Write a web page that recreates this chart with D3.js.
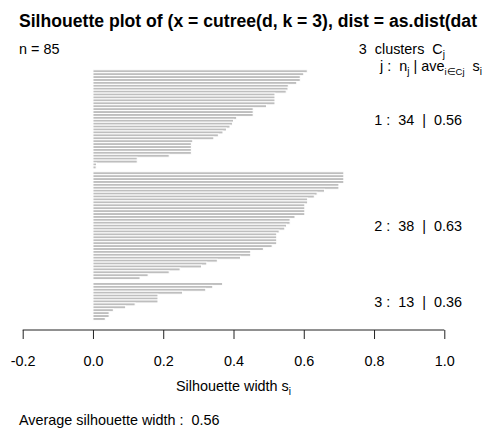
<!DOCTYPE html>
<html>
<head>
<meta charset="utf-8">
<script src="https://cdn.jsdelivr.net/npm/d3@7"></script>
<style>
  html, body { margin: 0; padding: 0; background: #fff; }
  svg text { font-family: "Liberation Sans", Arial, sans-serif; fill: #000; white-space: pre; }
</style>
</head>
<body>
<svg id="chart" width="483" height="428"></svg>
<script>
// ---- data ----
const titleText = "Silhouette plot of (x = cutree(d, k = 3), dist = as.dist(dat";
const nObs = 85;
const clusterIds = [1, 2, 3];
const clusterSizes = [34, 38, 13];
const clusterAvg = [0.56, 0.63, 0.36];
const averageWidth = 0.56;
const xTicks = [-0.2, 0.0, 0.2, 0.4, 0.6, 0.8, 1.0];

const cluster1 = [0.61, 0.60, 0.59, 0.59, 0.58, 0.556, 0.555, 0.55, 0.518, 0.518, 0.518, 0.518,
  0.494, 0.456, 0.456, 0.456, 0.409, 0.40, 0.397, 0.39, 0.38, 0.37, 0.357, 0.344,
  0.284, 0.28, 0.28, 0.28, 0.28, 0.217, 0.126, 0.126, 0.01, 0.009];
const cluster2 = [0.714, 0.714, 0.714, 0.714, 0.70, 0.70, 0.659, 0.638, 0.63, 0.611, 0.611,
  0.603, 0.603, 0.603, 0.603, 0.575, 0.561, 0.561, 0.551, 0.546, 0.53, 0.523, 0.523,
  0.523, 0.523, 0.51, 0.485, 0.449, 0.449, 0.42, 0.354, 0.324, 0.309, 0.248, 0.217,
  0.157, 0.134];
const cluster3 = [0.369, 0.341, 0.321, 0.255, 0.185, 0.185, 0.185, 0.12, 0.093, 0.058,
  0.046, 0.046, 0.035];
const clusterValues = [cluster1, cluster2, cluster3];

// ---- build rows (gap of one bar between clusters) ----
const rows = [];
const clusterMid = [];
let u = 0;
clusterValues.forEach((vals, ci) => {
  if (ci > 0) u += 1;
  const start = u;
  vals.forEach(v => { rows.push({ pos: u, value: v, cluster: clusterIds[ci] }); u += 1; });
  clusterMid.push((start + u) / 2);
});
const totalUnits = u;

const svg = d3.select("#chart");
const x = d3.scaleLinear().domain([-0.2, 1.0]).range([22.7, 444.3]);
const y = d3.scaleLinear().domain([0, totalUnits]).range([69.8, 320.4]);

// bars
svg.append("g").selectAll("rect").data(rows).join("rect")
  .attr("x", d => x(0))
  .attr("y", d => y(d.pos))
  .attr("width", d => Math.max(0, x(d.value) - x(0)))
  .attr("height", d => y(d.pos + 1) - y(d.pos))
  .attr("fill", "#bebebe")
  .attr("stroke", "#ffffff")
  .attr("stroke-width", 1);

// x axis
const fmt = d3.format(".1f");
const axis = d3.axisBottom(x).tickValues(xTicks).tickSize(9).tickPadding(6)
  .tickFormat(d => fmt(d).replace("\u2212", "-"));
const gx = svg.append("g").attr("transform", "translate(0,330)").call(axis);
gx.select(".domain").attr("stroke", "#222").attr("d", `M${x(-0.2)},0H${x(1.0)}`);
gx.selectAll(".tick line").attr("stroke", "#222");
gx.selectAll(".tick text").attr("font-size", "14.4px").attr("fill", "#000")
  .attr("font-family", "'Liberation Sans', Arial, sans-serif")
  .attr("y", 0).attr("dy", null).attr("transform", "translate(0,36)");

// title
svg.append("text").attr("x", 19).attr("y", 27)
  .attr("font-size", "17.6px").attr("font-weight", "bold").text(titleText);

// n = 85
svg.append("text").attr("x", 19).attr("y", 54).attr("font-size", "14.4px").text("n = " + nObs);

// "3 clusters C_j"
const t1 = svg.append("text").attr("x", 445).attr("y", 54).attr("text-anchor", "end")
  .attr("font-size", "14.4px");
t1.append("tspan").text(clusterIds.length + "  clusters  C");
t1.append("tspan").attr("font-size", "10px").attr("dy", 3.5).text("j");

// "j :  n_j | ave_{i∈Cj} s_i"
const t2 = svg.append("text").attr("x", 482).attr("y", 71).attr("text-anchor", "end")
  .attr("font-size", "14.4px");
t2.append("tspan").text("j :  n");
t2.append("tspan").attr("font-size", "10px").attr("dy", 3.5).text("j");
t2.append("tspan").attr("dy", -3.5).text(" | ave");
t2.append("tspan").attr("font-size", "9.5px").attr("dy", 3.5).text("i\u2208Cj");
t2.append("tspan").attr("dy", -3.5).text("  s");
t2.append("tspan").attr("font-size", "10px").attr("dy", 3.5).text("i");

// cluster labels
clusterIds.forEach((id, i) => {
  svg.append("text").attr("x", 462).attr("y", y(clusterMid[i]) + 5.5)
    .attr("text-anchor", "end").attr("font-size", "14.4px")
    .text(id + " :  " + clusterSizes[i] + "  |  " + clusterAvg[i].toFixed(2));
});

// x label
const xl = svg.append("text").attr("x", x(0.4)).attr("y", 391).attr("text-anchor", "middle")
  .attr("font-size", "14.4px");
xl.append("tspan").text("Silhouette width s");
xl.append("tspan").attr("font-size", "10px").attr("dy", 4).text("i");

// average
svg.append("text").attr("x", 19).attr("y", 425).attr("font-size", "14.4px")
  .text("Average silhouette width :  " + averageWidth.toFixed(2));
</script>
</body>
</html>
